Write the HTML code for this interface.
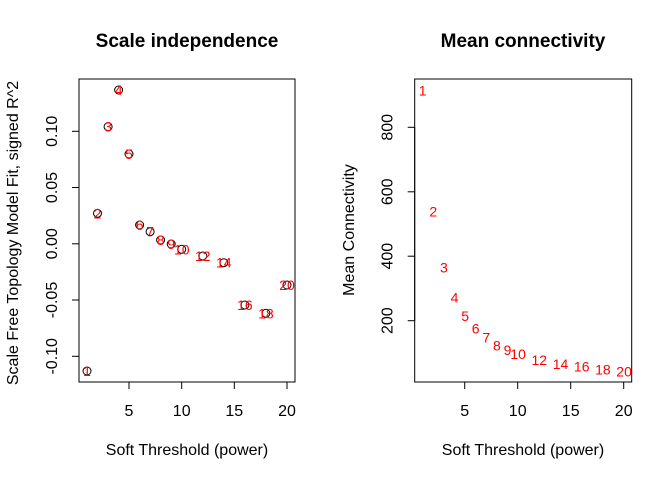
<!DOCTYPE html>
<html><head><meta charset="utf-8"><style>
html,body{margin:0;padding:0;background:#fff;}
svg{display:block;font-family:"Liberation Sans",sans-serif;}
</style></head><body>
<svg width="672" height="480" viewBox="0 0 672 480" xmlns="http://www.w3.org/2000/svg">
<rect width="672" height="480" fill="#fff"/>
<!-- Left panel -->
<text x="187" y="47" font-size="19" font-weight="bold" text-anchor="middle">Scale independence</text>
<rect x="79" y="79" width="216" height="303" fill="none" stroke="#000" stroke-width="1"/>
<g stroke="#000" stroke-width="1">
<line x1="129" y1="382" x2="129" y2="389"/><line x1="181.7" y1="382" x2="181.7" y2="389"/><line x1="234.3" y1="382" x2="234.3" y2="389"/><line x1="287" y1="382" x2="287" y2="389"/>
<line x1="129" y1="382" x2="287" y2="382"/>
<line x1="79" y1="356.3" x2="72" y2="356.3"/><line x1="79" y1="300" x2="72" y2="300"/><line x1="79" y1="243.8" x2="72" y2="243.8"/><line x1="79" y1="187.5" x2="72" y2="187.5"/><line x1="79" y1="131.3" x2="72" y2="131.3"/>
<line x1="79" y1="131.3" x2="79" y2="356.3"/>
</g>
<g font-size="16" text-anchor="middle">
<text x="129" y="416">5</text><text x="181.7" y="416">10</text><text x="234.3" y="416">15</text><text x="287" y="416">20</text>
<text transform="translate(57,356.3) rotate(-90)">-0.10</text>
<text transform="translate(57,300) rotate(-90)">-0.05</text>
<text transform="translate(57,243.8) rotate(-90)">0.00</text>
<text transform="translate(57,187.5) rotate(-90)">0.05</text>
<text transform="translate(57,131.3) rotate(-90)">0.10</text>
<text x="187" y="455" font-size="16">Soft Threshold (power)</text>
<text transform="translate(18,233) rotate(-90)" font-size="16">Scale Free Topology Model Fit, signed R^2</text>
</g>
<g fill="none" stroke="#000" stroke-width="1">
<circle cx="87.0" cy="371" r="4"/><circle cx="97.5" cy="213.3" r="4"/><circle cx="108.1" cy="126.7" r="4"/><circle cx="118.6" cy="90" r="4"/><circle cx="129" cy="154" r="4"/><circle cx="139.6" cy="225" r="4"/><circle cx="150.1" cy="231.7" r="4"/><circle cx="160.6" cy="240" r="4"/><circle cx="171.2" cy="244" r="4"/><circle cx="181.7" cy="249.3" r="4"/><circle cx="202.8" cy="256" r="4"/><circle cx="223.8" cy="262.7" r="4"/><circle cx="244.9" cy="305" r="4"/><circle cx="265.9" cy="313.3" r="4"/><circle cx="287" cy="285" r="4"/>
</g>
<g fill="#f00" font-size="14" text-anchor="middle">
<text x="87.0" y="376">1</text><text x="97.5" y="218.3">2</text><text x="108.1" y="131.7">3</text><text x="118.6" y="95">4</text><text x="129" y="159">5</text><text x="139.6" y="230">6</text><text x="150.1" y="236.7">7</text><text x="160.6" y="245">8</text><text x="171.2" y="249">9</text><text x="181.7" y="254.3">10</text><text x="202.8" y="261">12</text><text x="223.8" y="267.7">14</text><text x="244.9" y="310">16</text><text x="265.9" y="318.3">18</text><text x="287" y="290">20</text>
</g>
<!-- Right panel -->
<text x="523" y="47" font-size="19" font-weight="bold" text-anchor="middle">Mean connectivity</text>
<rect x="414.7" y="79" width="217" height="303" fill="none" stroke="#000" stroke-width="1"/>
<g stroke="#000" stroke-width="1">
<line x1="464.7" y1="382" x2="464.7" y2="389"/><line x1="517.7" y1="382" x2="517.7" y2="389"/><line x1="570.7" y1="382" x2="570.7" y2="389"/><line x1="623.7" y1="382" x2="623.7" y2="389"/>
<line x1="464.7" y1="382" x2="623.7" y2="382"/>
<line x1="414.7" y1="320.7" x2="407.7" y2="320.7"/><line x1="414.7" y1="256.2" x2="407.7" y2="256.2"/><line x1="414.7" y1="191.8" x2="407.7" y2="191.8"/><line x1="414.7" y1="127.3" x2="407.7" y2="127.3"/>
<line x1="414.7" y1="127.3" x2="414.7" y2="320.7"/>
</g>
<g font-size="16" text-anchor="middle">
<text x="464.7" y="416">5</text><text x="517.7" y="416">10</text><text x="570.7" y="416">15</text><text x="623.7" y="416">20</text>
<text transform="translate(392.5,320.7) rotate(-90)">200</text>
<text transform="translate(392.5,256.2) rotate(-90)">400</text>
<text transform="translate(392.5,191.8) rotate(-90)">600</text>
<text transform="translate(392.5,127.3) rotate(-90)">800</text>
<text x="523" y="455" font-size="16">Soft Threshold (power)</text>
<text transform="translate(354,230) rotate(-90)" font-size="16">Mean Connectivity</text>
</g>
<g fill="#f00" font-size="14" text-anchor="middle">
<text x="422.7" y="95.7">1</text><text x="433.3" y="216.7">2</text><text x="443.9" y="272.3">3</text><text x="454.5" y="302.7">4</text><text x="465.1" y="321">5</text><text x="475.7" y="333.7">6</text><text x="486.3" y="342.3">7</text><text x="496.9" y="350.3">8</text><text x="507.5" y="355">9</text><text x="518.1" y="359">10</text><text x="539.3" y="365">12</text><text x="560.5" y="369">14</text><text x="581.7" y="371.7">16</text><text x="602.9" y="374.3">18</text><text x="624.1" y="376.3">20</text>
</g>
</svg>
</body></html>
